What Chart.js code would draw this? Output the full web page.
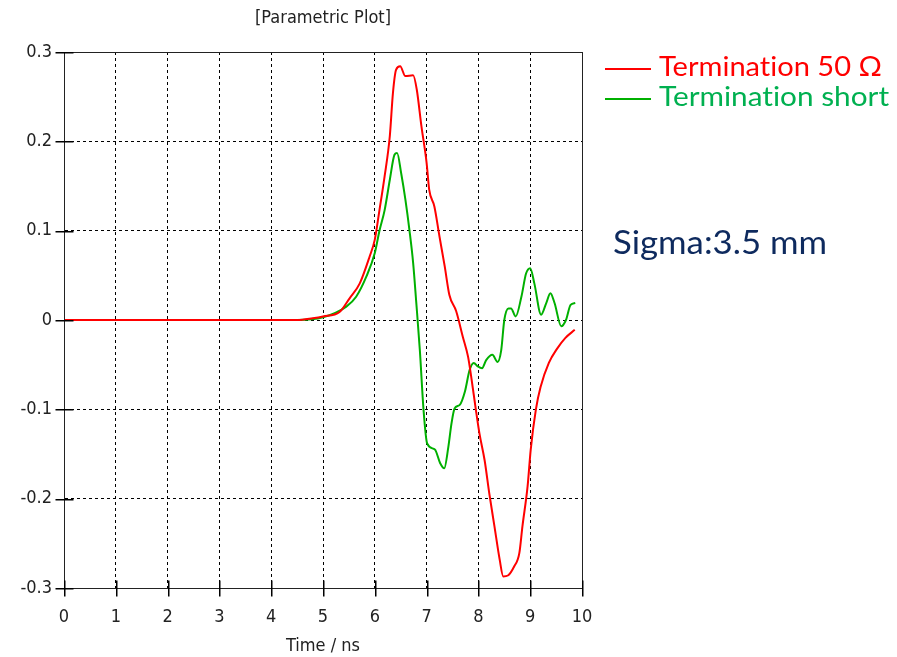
<!DOCTYPE html>
<html>
<head>
<meta charset="utf-8">
<script src="https://cdn.jsdelivr.net/npm/chart.js@4/dist/chart.umd.min.js"></script>
<style>
  html, body { margin: 0; padding: 0; background: #fff; }
  #wrap { position: relative; width: 897px; height: 657px; overflow: hidden; }
  #plot { position: absolute; left: 0; top: 0; }
  .lg-line { position: absolute; height: 2px; }
  .note { position: absolute; white-space: nowrap; font-family: Lato, "Noto Sans", sans-serif;
          font-variant-ligatures: none; font-feature-settings: "liga" 0; transform-origin: 0 0; line-height: 1; }
</style>
</head>
<body>
<div id="wrap">
  <canvas id="plot" width="897" height="657"></canvas>
  <div class="lg-line" style="left:605px; top:68px; width:46px; background:#ff0000;"></div>
  <div class="lg-line" style="left:605px; top:98px; width:46px; background:#00b000;"></div>
  <div class="note" id="lg1" data-w="223" style="left:659px; top:52px; font-size:27px; color:#ff0000;">Termination 50 Ω</div>
  <div class="note" id="lg2" data-w="230" style="left:659px; top:82px; font-size:27px; color:#00b050;">Termination short</div>
  <div class="note" id="sig" data-w="214" style="left:613px; top:226px; font-size:32px; color:#0e2a5e;">Sigma:3.5 mm</div>
</div>
<script>
// Time axis (ns) and reflected voltage for the two terminations
const timeTerm50 = [0, 4.5, 4.8, 5.0, 5.32, 5.51, 5.71, 5.9, 6.0, 6.09, 6.19, 6.29, 6.35, 6.41, 6.49,
  6.59, 6.74, 6.81, 6.9, 7.0, 7.05, 7.15, 7.25, 7.35, 7.44, 7.57, 7.70, 7.80, 7.86, 7.95, 8.02,
  8.12, 8.21, 8.31, 8.41, 8.48, 8.57, 8.69, 8.79, 8.85, 8.95, 9.01, 9.11, 9.2, 9.36, 9.52, 9.68, 9.86];
const valueTerm50 = [0, 0, 0.002, 0.004, 0.009, 0.024, 0.041, 0.071, 0.09, 0.123, 0.161, 0.206, 0.254, 0.28, 0.284,
  0.273, 0.274, 0.258, 0.217, 0.176, 0.146, 0.127, 0.093, 0.06, 0.028, 0.01, -0.019, -0.041, -0.063, -0.10, -0.127,
  -0.157, -0.194, -0.231, -0.268, -0.287, -0.286, -0.276, -0.261, -0.231, -0.186, -0.145, -0.10, -0.075, -0.048, -0.032, -0.02, -0.011];

const timeShort = [0, 4.5, 5.0, 5.45, 5.64, 5.84, 6.0, 6.09, 6.19, 6.29, 6.38, 6.43, 6.51, 6.59, 6.67,
  6.74, 6.8, 6.87, 6.94, 7.01, 7.16, 7.26, 7.34, 7.42, 7.48, 7.54, 7.64, 7.74, 7.83, 7.91, 7.99,
  8.07, 8.15, 8.27, 8.37, 8.44, 8.5, 8.58, 8.63, 8.72, 8.83, 8.92, 9.0, 9.08, 9.21, 9.31, 9.39,
  9.47, 9.6, 9.69, 9.78, 9.87];
const valueShort = [0, 0, 0.003, 0.015, 0.026, 0.049, 0.075, 0.10, 0.123, 0.157, 0.185, 0.187, 0.164, 0.135, 0.10,
  0.064, 0.02, -0.034, -0.10, -0.138, -0.145, -0.16, -0.166, -0.142, -0.116, -0.099, -0.095, -0.080, -0.056, -0.048, -0.052,
  -0.054, -0.045, -0.039, -0.047, -0.034, 0.0, 0.013, 0.013, 0.004, 0.026, 0.052, 0.058, 0.041, 0.006, 0.019, 0.03,
  0.019, -0.007, 0.0, 0.017, 0.019];

const xTickValues = [0, 1, 2, 3, 4, 5, 6, 7, 8, 9, 10];
const yTickValues = [-0.3, -0.2, -0.1, 0, 0.1, 0.2, 0.3];
const yTickLabels = ['-0.3', '-0.2', '-0.1', '0', '0.1', '0.2', '0.3'];

const toPoints = (xs, ys) => xs.map((x, i) => ({ x: x, y: ys[i] }));

// Solid frame around the plotting area, with tick marks crossing the axes
const frame = {
  id: 'frame',
  afterDraw(chart) {
    const a = chart.chartArea, c = chart.ctx;
    const L = Math.round(a.left) + 0.5, T = Math.round(a.top) + 0.5;
    const R = Math.round(a.right) + 0.5, B = Math.round(a.bottom) + 0.5;
    c.save();
    c.setLineDash([]);
    c.strokeStyle = '#222';
    c.lineWidth = 1;
    c.strokeRect(L, T, R - L, B - T);
    const sx = chart.scales.x, sy = chart.scales.y;
    xTickValues.forEach(v => {
      const px = Math.round(sx.getPixelForValue(v));
      c.fillRect(px, B - 8, 1.5, 16);
    });
    yTickValues.forEach(v => {
      const py = Math.round(sy.getPixelForValue(v));
      c.fillRect(L - 9, py, 18, 1.5);
    });
    c.restore();
  }
};

const tickFont = { family: '"DejaVu Sans Condensed", "DejaVu Sans", sans-serif', size: 18 };

new Chart(document.getElementById('plot'), {
  type: 'line',
  data: {
    datasets: [
      { label: 'Termination 50 Ω', data: toPoints(timeTerm50, valueTerm50),
        borderColor: '#ff0000', borderWidth: 2, pointRadius: 0, cubicInterpolationMode: 'monotone' },
      { label: 'Termination short', data: toPoints(timeShort, valueShort),
        borderColor: '#00b000', borderWidth: 2, pointRadius: 0, cubicInterpolationMode: 'monotone' }
    ]
  },
  options: {
    responsive: false,
    devicePixelRatio: 1,
    animation: false,
    layout: { padding: { left: 0, right: 315, top: 0, bottom: 0 } },
    plugins: {
      legend: { display: false },
      tooltip: { enabled: false },
      title: {
        display: true, text: '[Parametric Plot]', fullSize: false, color: '#222',
        font: { family: tickFont.family, size: 18, weight: 'normal', lineHeight: 1.2 },
        padding: { top: 8, bottom: 22.4 }
      }
    },
    scales: {
      x: {
        type: 'linear', min: 0, max: 10,
        afterBuildTicks: s => { s.ticks = xTickValues.map(v => ({ value: v })); },
        afterFit: s => { s.height = 69; },
        ticks: { color: '#222', font: tickFont, padding: 11, maxRotation: 0, callback: v => String(v) },
        grid: { color: '#000', lineWidth: 1, tickLength: 8, tickColor: 'rgba(0,0,0,0)' },
        border: { dash: [3, 3], color: '#333' },
        title: { display: true, text: 'Time / ns', color: '#222', font: tickFont, padding: { top: 0, bottom: 0 } }
      },
      y: {
        type: 'linear', min: -0.3, max: 0.3,
        afterBuildTicks: s => { s.ticks = yTickValues.map(v => ({ value: v })); },
        afterFit: s => { s.width = 64; },
        ticks: { color: '#222', font: tickFont, padding: 3,
                 callback: (v) => yTickLabels[yTickValues.findIndex(t => Math.abs(t - v) < 1e-9)] },
        grid: { color: '#000', lineWidth: 1, tickLength: 9, tickColor: 'rgba(0,0,0,0)' },
        border: { dash: [3, 3], color: '#333' }
      }
    }
  },
  plugins: [frame]
});

// Fit the annotation texts to their widths
document.querySelectorAll('.note').forEach(el => {
  const w = el.getBoundingClientRect().width;
  const target = parseFloat(el.dataset.w);
  el.style.transform = 'scaleX(' + (target / w).toFixed(3) + ')';
});
</script>
</body>
</html>
